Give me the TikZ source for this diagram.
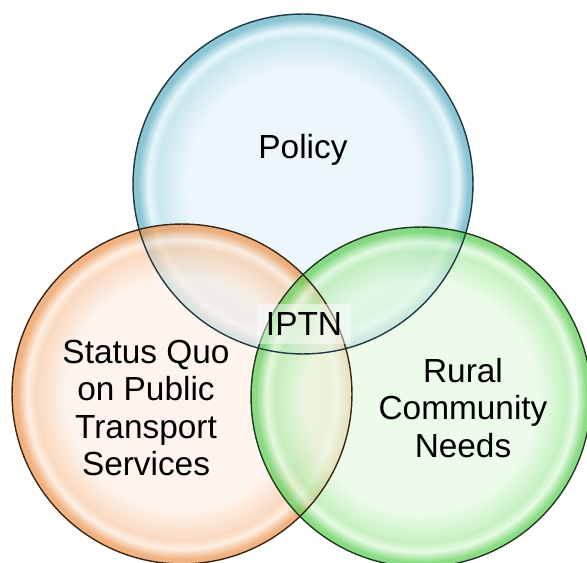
\documentclass[tikz,border=0pt]{standalone}
\usepackage{fontspec}
\setmainfont{Liberation Sans}
\definecolor{bIn}{HTML}{E6F3F8}
\definecolor{bMid}{HTML}{B6DEEA}
\definecolor{bHi}{HTML}{DDF3F9}
\definecolor{bEdge}{HTML}{5FAFC4}
\definecolor{bLine}{HTML}{1E3A42}
\definecolor{oIn}{HTML}{FDF0E6}
\definecolor{oMid}{HTML}{F8CBA8}
\definecolor{oHi}{HTML}{FDE8D8}
\definecolor{oEdge}{HTML}{EC9550}
\definecolor{oLine}{HTML}{3C2612}
\definecolor{gIn}{HTML}{E6FAE3}
\definecolor{gMid}{HTML}{B2ECAB}
\definecolor{gHi}{HTML}{DCF8D8}
\definecolor{gEdge}{HTML}{5FCF58}
\definecolor{gLine}{HTML}{1F3C1E}
\pgfdeclareradialshading{bblue}{\pgfpoint{0bp}{0bp}}{color(0bp)=(bIn); color(17bp)=(bIn); color(21.5bp)=(bMid); color(22.8bp)=(bHi); color(24.3bp)=(bEdge); color(25bp)=(bEdge); color(50bp)=(bEdge)}
\pgfdeclareradialshading{borange}{\pgfpoint{0bp}{0bp}}{color(0bp)=(oIn); color(17bp)=(oIn); color(21.5bp)=(oMid); color(22.8bp)=(oHi); color(24.3bp)=(oEdge); color(25bp)=(oEdge); color(50bp)=(oEdge)}
\pgfdeclareradialshading{bgreen}{\pgfpoint{0bp}{0bp}}{color(0bp)=(gIn); color(17bp)=(gIn); color(21.5bp)=(gMid); color(22.8bp)=(gHi); color(24.3bp)=(gEdge); color(25bp)=(gEdge); color(50bp)=(gEdge)}
\tikzset{
  bubble/.style={circle, minimum size=6.8cm, inner sep=0pt, fill opacity=0.72, line width=0.8pt},
  lbl/.style={align=center, font=\fontsize{19}{21.3}\selectfont, text=black, inner sep=1pt},
  centerlbl/.style={lbl, fill=white, fill opacity=0.45, text opacity=1, inner sep=3pt, minimum width=1.9cm, minimum height=0.8cm}
}
\begin{document}
\begin{tikzpicture}[x=0.02cm,y=-0.02cm]
\useasboundingbox (0,0) rectangle (587,563);
\clip (0,0) rectangle (587,563);
\node[bubble, shading=bblue] (policy) at (303,184) {};
\node[bubble, shading=borange] (status) at (182,394) {};
\node[bubble, shading=bgreen] (rural) at (421,397) {};
\draw[bLine, line width=0.8pt] (policy.center) circle[radius=3.4cm];
\draw[oLine, line width=0.8pt] (status.center) circle[radius=3.4cm];
\draw[gLine, line width=0.8pt] (rural.center) circle[radius=3.4cm];
\node[lbl] (tpolicy) at (303,150) {Policy};
\node[lbl] (tstatus) at (146,408) {Status Quo\\on Public\\Transport\\Services};
\node[lbl] (trural) at (463,408) {Rural\\Community\\Needs};
\node[centerlbl] (tiptn) at (304,324) {IPTN};
\end{tikzpicture}
\end{document}
